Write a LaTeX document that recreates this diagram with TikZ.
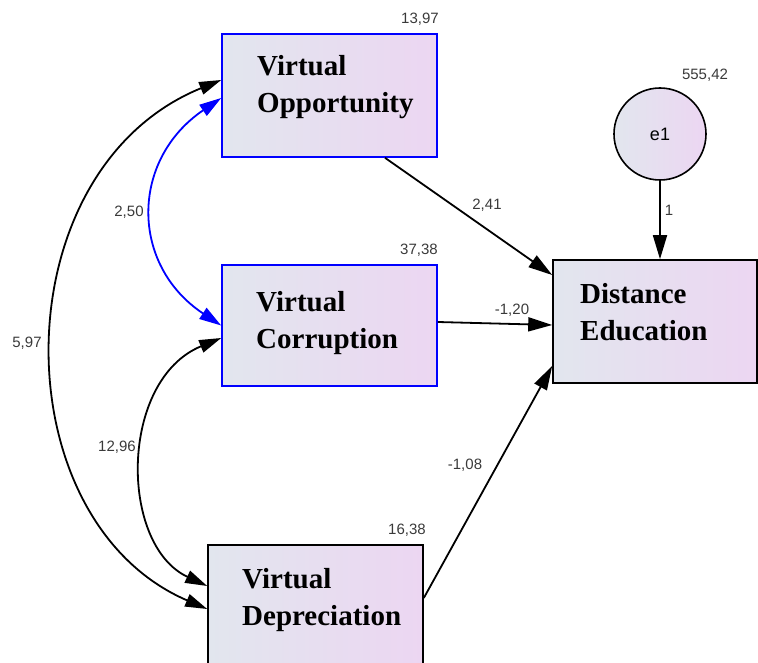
\documentclass[tikz,border=0pt]{standalone}
\usepackage{fontspec}
\setmainfont{Liberation Serif}
\setsansfont{Liberation Sans}
\usetikzlibrary{arrows.meta}
\definecolor{boxleft}{HTML}{E2E6EE}
\definecolor{boxright}{HTML}{ECD6F2}
\definecolor{numgray}{HTML}{3A3A3A}

\begin{document}
\begin{tikzpicture}[x=1pt,y=-1pt,
    var box/.style={rectangle,draw,line width=1.6pt,left color=boxleft,right color=boxright,inner sep=0pt,minimum width=215pt,minimum height=123pt},
    box text/.style={anchor=base west,align=left,inner sep=0pt,font=\fontsize{29}{37}\selectfont\bfseries},
    est/.style={inner sep=0pt,text=numgray,font=\fontsize{15}{15}\selectfont\sffamily},
    reg arrow/.style={draw,line width=1.8pt,-{Triangle[length=24pt,width=14pt]}},
    cov arrow/.style={draw,line width=1.8pt,{Triangle[length=22pt,width=13pt]}-{Triangle[length=22pt,width=13pt]}}]
    \useasboundingbox (0,0) rectangle (758,663);

    % observed variables
    \node [var box,draw=blue] (vo) at (329.5,95.5) {};
    \node [var box,draw=blue,minimum height=121pt] (vc) at (329.5,325.5) {};
    \node [var box,minimum height=125pt] (vd) at (315.5,607.5) {};
    \node [var box,minimum width=204pt] (de) at (655,321.5) {};
    \node [circle,draw,line width=1.6pt,left color=boxleft,right color=boxright,minimum size=92pt,inner sep=0pt,font=\fontsize{18}{18}\selectfont\sffamily] (e1) at (660,134) {e1};

    % text sits on the baseline of its last line
    \node [box text] (vo-txt) at (257,113) {Virtual\\Opportunity};
    \node [box text] (vc-txt) at (256,348) {Virtual\\Corruption};
    \node [box text] (vd-txt) at (242,625) {Virtual\\Depreciation};
    \node [box text] (de-txt) at (580,340) {Distance\\Education};

    % regression paths
    \draw [reg arrow] ([xshift=55.5pt]vo.south) -- ([yshift=46.5pt]de.west);
    \draw [reg arrow] ([yshift=3.5pt]vc.east) -- ([yshift=-3.5pt]de.west);
    \draw [reg arrow] ([yshift=9.5pt]vd.east) -- ([yshift=-44.5pt]de.west);
    \draw [reg arrow] (e1.south) -- (e1.south |- de.north);

    % covariances
    \draw [cov arrow,blue] ([yshift=-2.5pt]vo.west) .. controls (130,160) and (130,265) .. (vc.west);
    \draw [cov arrow] ([yshift=15.5pt]vo.west) .. controls (0,170) and (0,520) .. ([yshift=-1.5pt]vd.west);
    \draw [cov arrow] ([yshift=-12.5pt]vc.west) .. controls (119,380) and (119,545) .. ([yshift=21.5pt]vd.west);

    % estimates
    \node [est] (vo-var) at (420,19) {13,97};
    \node [est] (vc-var) at (419,250) {37,38};
    \node [est] (vd-var) at (407,530) {16,38};
    \node [est] (e1-var) at (705,75) {555,42};
    \node [est] (vo-de) at (487,205) {2,41};
    \node [est] (vc-de) at (512,310) {-1,20};
    \node [est] (vd-de) at (465,465) {-1,08};
    \node [est] (e1-de) at (669,210) {1};
    \node [est] (vo-vc) at (129,212) {2,50};
    \node [est] (vo-vd) at (27,343) {5,97};
    \node [est] (vc-vd) at (117,447) {12,96};
\end{tikzpicture}
\end{document}
